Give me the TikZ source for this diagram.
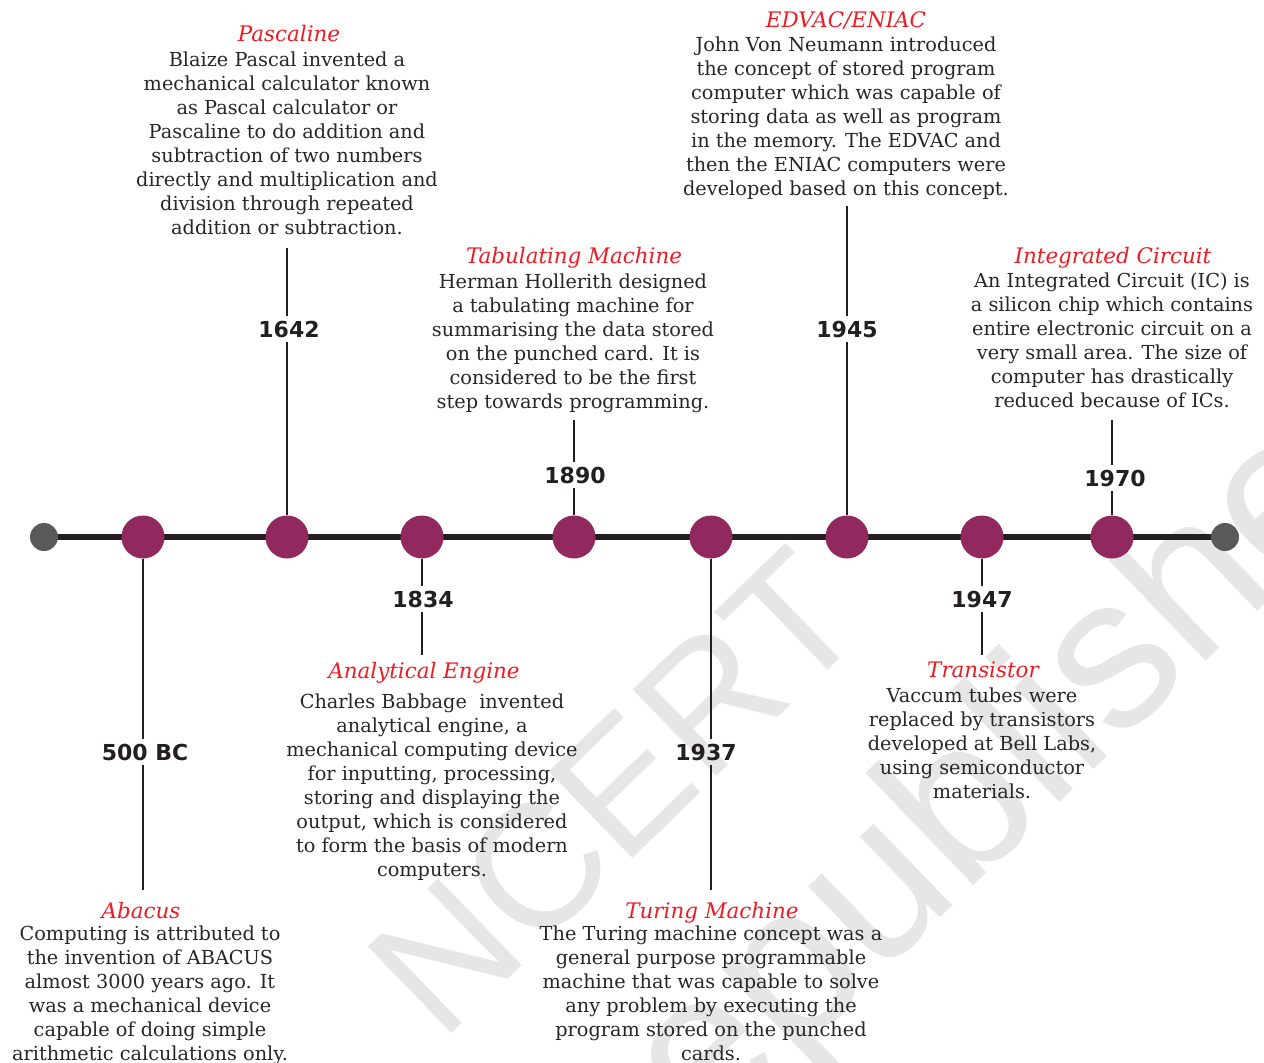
\documentclass[tikz,border=0pt]{standalone}
\usepackage{fontspec}
\newfontfamily\yearfont{DejaVu Sans}
\newfontfamily\bodyfont{DejaVu Serif}
\newfontfamily\wmfont{Liberation Sans}
\definecolor{tlpurple}{RGB}{146,41,94}
\definecolor{tlgray}{RGB}{88,89,91}
\definecolor{tlink}{RGB}{35,31,32}
\definecolor{tlred}{RGB}{237,28,36}
\definecolor{tltext}{RGB}{40,38,39}
\definecolor{wmgray}{RGB}{230,230,230}
\tikzset{
  dot/.style={circle, fill=tlpurple, minimum size=43pt, inner sep=0pt},
  enddot/.style={circle, fill=tlgray, minimum size=28pt, inner sep=0pt},
  year/.style={font=\yearfont\bfseries\fontsize{22}{22}\selectfont, text=tlink, inner sep=4.5pt},
  title/.style={font=\bodyfont\itshape\fontsize{21.4}{24}\selectfont, text=tlred, anchor=base, inner sep=0pt},
  body/.style={font=\bodyfont\fontsize{19.3}{24}\selectfont, text=tltext, align=center, anchor=north, inner sep=0pt},
  stem/.style={draw=tlink, line width=2.6pt},
  axis/.style={draw=tlink, line width=6pt},
  wm/.style={font=\wmfont\fontsize{175}{175}\selectfont, text=wmgray, inner sep=0pt}
}
\begin{document}
\begin{tikzpicture}[x=1pt,y=-1pt]
\useasboundingbox[fill=white] (0,0) rectangle (1264,1063);
% watermark
\node[wm, rotate=44] (wm1) at (615,792) {NCERT};
\node[wm, rotate=44, font=\wmfont\fontsize{215}{215}\selectfont] (wm2) at (1015,768) {republished};
% axis
\coordinate (L) at (44,537);
\coordinate (R) at (1225,537);
\draw[axis] (L) -- (R);
\node[enddot] (eL) at (L) {};
\node[enddot] (eR) at (R) {};
\node[dot] (c500) at (143,537) {};
\node[dot] (c1642) at (287,537) {};
\node[dot] (c1834) at (422,537) {};
\node[dot] (c1890) at (574,537) {};
\node[dot] (c1937) at (711,537) {};
\node[dot] (c1945) at (847,537) {};
\node[dot] (c1947) at (982,537) {};
\node[dot] (c1970) at (1112,537) {};
% years
\node[year] (y500) at (145,752) {500 BC};
\node[year] (y1642) at (289,329) {1642};
\node[year] (y1834) at (423,599) {1834};
\node[year] (y1890) at (575,475) {1890};
\node[year] (y1937) at (706,752) {1937};
\node[year] (y1945) at (847,329) {1945};
\node[year] (y1947) at (982,599) {1947};
\node[year] (y1970) at (1115,478) {1970};
% free ends of stems at text blocks
\coordinate (e500) at (143,890);
\coordinate (t1642) at (287,248);
\coordinate (e1834) at (422,655);
\coordinate (t1890) at (574,420);
\coordinate (e1937) at (711,890);
\coordinate (t1945) at (847,206);
\coordinate (e1947) at (982,655);
\coordinate (t1970) at (1112,420);
% stems
\draw[stem] (c500) -- (c500 |- y500.north);
\draw[stem] (c500 |- y500.south) -- (e500);
\draw[stem] (t1642) -- (t1642 |- y1642.north);
\draw[stem] (c1642 |- y1642.south) -- (c1642);
\draw[stem] (c1834) -- (c1834 |- y1834.north);
\draw[stem] (c1834 |- y1834.south) -- (e1834);
\draw[stem] (t1890) -- (t1890 |- y1890.north);
\draw[stem] (c1890 |- y1890.south) -- (c1890);
\draw[stem] (c1937) -- (c1937 |- y1937.north);
\draw[stem] (c1937 |- y1937.south) -- (e1937);
\draw[stem] (t1945) -- (t1945 |- y1945.north);
\draw[stem] (c1945 |- y1945.south) -- (c1945);
\draw[stem] (c1947) -- (c1947 |- y1947.north);
\draw[stem] (c1947 |- y1947.south) -- (e1947);
\draw[stem] (t1970) -- (t1970 |- y1970.north);
\draw[stem] (c1970 |- y1970.south) -- (c1970);
% titles
\node[title] (tPas) at (289,41) {Pascaline};
\node[title] (tTab) at (574,263) {Tabulating Machine};
\node[title] (tEdv) at (846,27) {EDVAC/ENIAC};
\node[title] (tIC) at (1113,263) {Integrated Circuit};
\node[title] (tAba) at (141,918) {Abacus};
\node[title] (tAna) at (424,678) {Analytical Engine};
\node[title] (tTur) at (712,918) {Turing Machine};
\node[title] (tTra) at (983,677) {Transistor};
% bodies
\node[body] (bPas) at (287,52) {Blaize Pascal invented a\\
mechanical calculator known\\
as Pascal calculator or\\
Pascaline to do addition and\\
subtraction of two numbers\\
directly and multiplication and\\
division through repeated\\
addition or subtraction.};
\node[body] (bTab) at (573,274) {Herman Hollerith designed\\
a tabulating machine for\\
summarising the data stored\\
on the punched card. It is\\
considered to be the first\\
step towards programming.};
\node[body] (bEdv) at (846,37) {John Von Neumann introduced\\
the concept of stored program\\
computer which was capable of\\
storing data as well as program\\
in the memory. The EDVAC and\\
then the ENIAC computers were\\
developed based on this concept.};
\node[body] (bIC) at (1112,273) {An Integrated Circuit (IC) is\\
a silicon chip which contains\\
entire electronic circuit on a\\
very small area. The size of\\
computer has drastically\\
reduced because of ICs.};
\node[body] (bAba) at (150,926) {Computing is attributed to\\
the invention of ABACUS\\
almost 3000 years ago. It\\
was a mechanical device\\
capable of doing simple\\
arithmetic calculations only.};
\node[body] (bAna) at (432,694) {Charles Babbage\ \ invented\\
analytical engine, a\\
mechanical computing device\\
for inputting, processing,\\
storing and displaying the\\
output, which is considered\\
to form the basis of modern\\
computers.};
\node[body] (bTur) at (711,926) {The Turing machine concept was a\\
general purpose programmable\\
machine that was capable to solve\\
any problem by executing the\\
program stored on the punched\\
cards.};
\node[body] (bTra) at (982,688) {Vaccum tubes were\\
replaced by transistors\\
developed at Bell Labs,\\
using semiconductor\\
materials.};
\end{tikzpicture}
\end{document}
